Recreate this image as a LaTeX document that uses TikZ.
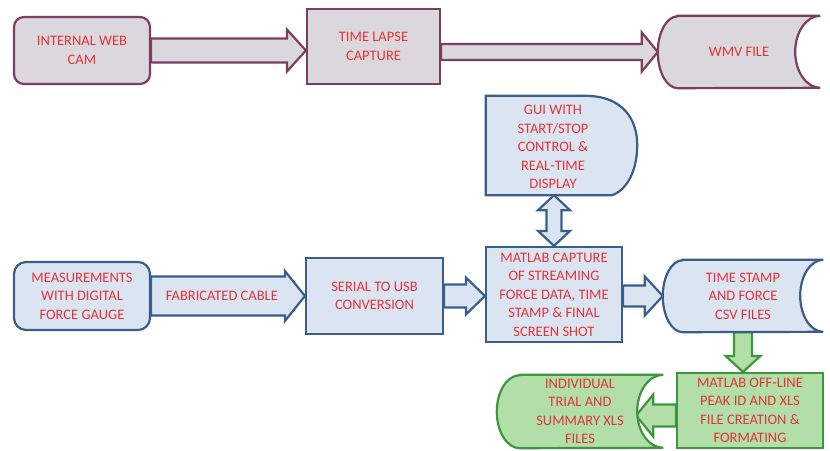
\documentclass[tikz,border=0pt]{standalone}
\usepackage{fontspec}
\setmainfont{Carlito}
\usetikzlibrary{calc}
\definecolor{gfill}{RGB}{218,216,221}
\definecolor{gline}{RGB}{122,62,96}
\definecolor{bfill}{RGB}{219,229,241}
\definecolor{bline}{RGB}{58,94,138}
\definecolor{nfill}{RGB}{178,222,168}
\definecolor{nline}{RGB}{62,150,62}
\definecolor{rtxt}{RGB}{228,52,56}
\pgfdeclarelayer{bg}
\pgfdeclarelayer{arrows}
\pgfdeclarelayer{shapes}
\pgfsetlayers{bg,arrows,shapes,main}
% horizontal block arrow: start, tip, shaft half, head half, head length (signed)
\newcommand\hblock[6]{%
  \draw[#6] let \p1=(#1), \p2=(#2) in
  (\x1,{\y1+#3pt}) -- ({\x2-(#5pt)},{\y1+#3pt}) -- ({\x2-(#5pt)},{\y1+#4pt}) -- (\x2,\y1)
  -- ({\x2-(#5pt)},{\y1-#4pt}) -- ({\x2-(#5pt)},{\y1-#3pt}) -- (\x1,{\y1-#3pt}) -- cycle;}
% vertical block arrow pointing down
\newcommand\vblock[6]{%
  \draw[#6] let \p1=(#1), \p2=(#2) in
  ({\x1-#3pt},\y1) -- ({\x1-#3pt},{\y2+(#5pt)}) -- ({\x1-#4pt},{\y2+(#5pt)}) -- (\x1,\y2)
  -- ({\x1+#4pt},{\y2+(#5pt)}) -- ({\x1+#3pt},{\y2+(#5pt)}) -- ({\x1+#3pt},\y1) -- cycle;}
% stored data outline: node, left depth, right depth, half height, style
\newcommand\stored[5]{%
  \draw[#5] let \p1=(#1.north west), \p2=(#1.south east) in
  ({\x1+#2pt},\y1) -- (\x2,\y1) arc[start angle=90,end angle=270,x radius=#3pt,y radius=#4pt]
  -- ({\x1+#2pt},\y2) arc[start angle=270,end angle=90,x radius=#2pt,y radius=#4pt] -- cycle;}
\tikzset{
  txt/.style={font=\fontsize{14.5}{18.5}\selectfont, text=rtxt, align=center, inner sep=0pt},
  graybox/.style={txt, draw=gline, fill=gfill, line width=2.2pt},
  bluebox/.style={txt, draw=bline, fill=bfill, line width=2.2pt},
  greenbox/.style={txt, draw=nline, fill=nfill, line width=2.2pt},
  plain/.style={txt},
  grayline/.style={draw=gline, fill=gfill, line width=2.2pt, line join=miter},
  blueline/.style={draw=bline, fill=bfill, line width=2.2pt, line join=miter},
  greenline/.style={draw=nline, fill=nfill, line width=2.2pt, line join=miter},
}
\begin{document}
\begin{tikzpicture}[x=1pt,y=1pt]
\useasboundingbox (0,0) rectangle (830,-450);
\begin{pgfonlayer}{bg}
  \fill[white] (0,0) rectangle (830,-450);
\end{pgfonlayer}

% top row
\node[graybox, rounded corners=10pt, minimum width=136pt, minimum height=67pt] (cam) at (82,-50.5) {INTERNAL WEB\\CAM};
\node[graybox, minimum width=133pt, minimum height=75pt] (tl) at (373.5,-46.5) {TIME LAPSE\\CAPTURE};
\node[plain, minimum width=162pt, minimum height=72pt] (wmv) at (739,-52) {WMV FILE};

% middle
\node[minimum width=151pt, minimum height=99pt, inner sep=0pt] (gui) at (561.5,-145.5) {};
\node[plain] (guitext) at (553,-147) {GUI WITH\\START/STOP\\CONTROL \&\\REAL-TIME\\DISPLAY};
\node[bluebox, rounded corners=12pt, minimum width=136pt, minimum height=68pt] (meas) at (82,-296) {MEASUREMENTS\\WITH DIGITAL\\FORCE GAUGE};
\node[bluebox, minimum width=137pt, minimum height=76pt] (serial) at (374.5,-296) {SERIAL TO USB\\CONVERSION};
\node[bluebox, minimum width=136pt, minimum height=95pt] (cap) at (554,-294.5) {MATLAB CAPTURE\\OF STREAMING\\FORCE DATA, TIME\\STAMP \& FINAL\\SCREEN SHOT};
\node[plain, minimum width=160pt, minimum height=72pt] (csv) at (743,-296) {TIME STAMP\\AND FORCE\\CSV FILES};

% bottom
\node[greenbox, minimum width=146pt, minimum height=75pt] (off) at (750,-410.5) {MATLAB OFF-LINE\\PEAK ID AND XLS\\FILE CREATION \&\\FORMATING};
\node[plain, minimum width=166pt, minimum height=73pt] (ind) at (580,-411.5) {INDIVIDUAL\\TRIAL AND\\SUMMARY XLS\\FILES};
\coordinate (indtip) at ($(ind.east)+(-27,-4)$);

\begin{pgfonlayer}{shapes}
  \stored{wmv}{20}{25}{36}{grayline}
  \stored{csv}{20}{23}{36}{blueline}
  \stored{ind}{23}{26}{36.5}{greenline}
  \draw[blueline] let \p1=(gui.north west), \p2=(gui.south east) in
    (\x1,\y1) -- ({\x2-52pt},\y1) .. controls ({\x2-14pt},\y1) and (\x2,{\y1-24pt}) .. (\x2,{\y1-49pt})
    .. controls (\x2,{\y2+26pt}) and ({\x2-9pt},{\y2+6pt}) .. ({\x2-25pt},\y2) -- (\x1,\y2) -- cycle;
\end{pgfonlayer}

\begin{pgfonlayer}{arrows}
  \hblock{cam.east}{tl.west}{12}{21}{19}{grayline}
  \hblock{tl.east |- wmv.west}{wmv.west}{8}{19.5}{16}{grayline}
  \hblock{meas.east}{serial.west}{19.5}{25}{20}{blueline}
  \hblock{serial.east}{cap.west |- serial.east}{11.5}{18.5}{19}{blueline}
  \hblock{cap.east |- csv.west}{csv.west}{10.5}{19.5}{18}{blueline}
  \vblock{csv.south}{off.north -| csv.south}{9}{17.5}{16}{greenline}
  \hblock{off.west |- indtip}{indtip}{11}{21}{-17}{greenline}
  \draw[blueline] let \p1=(cap.north), \p2=(gui.south) in
    (\x1,\y1) -- ({\x1-16pt},{\y1+15pt}) -- ({\x1-7.5pt},{\y1+15pt}) -- ({\x1-7.5pt},{\y2-15pt})
    -- ({\x1-16pt},{\y2-15pt}) -- (\x1,\y2) -- ({\x1+16pt},{\y2-15pt}) -- ({\x1+7.5pt},{\y2-15pt})
    -- ({\x1+7.5pt},{\y1+15pt}) -- ({\x1+16pt},{\y1+15pt}) -- cycle;
\end{pgfonlayer}

\node[plain] (cablelbl) at ($(meas.east)!0.46!(serial.west)$) {FABRICATED CABLE};
\end{tikzpicture}
\end{document}
